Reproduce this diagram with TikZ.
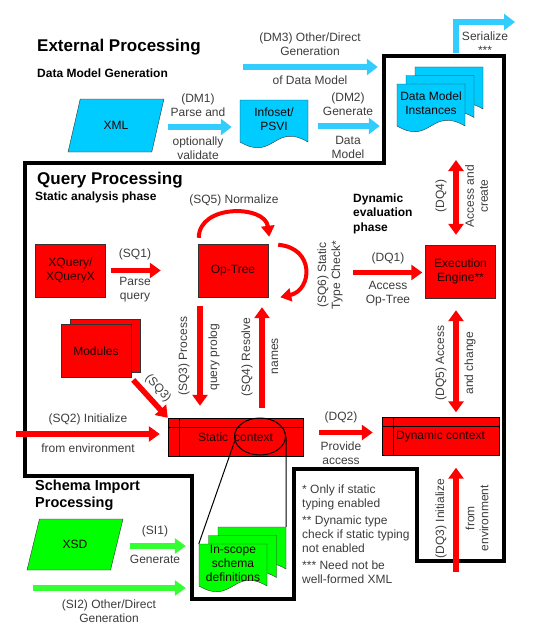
\documentclass[tikz,border=0pt]{standalone}
\usepackage{fontspec}
\setmainfont{Liberation Sans}
\usetikzlibrary{arrows.meta,shapes.geometric}

\definecolor{dmcyan}{HTML}{00CCFF}
\definecolor{dmarrow}{HTML}{33CCFF}
\definecolor{sqred}{HTML}{FF0000}
\definecolor{sigreen}{HTML}{00FF00}
\definecolor{siarrow}{HTML}{33FF33}
\definecolor{labelgray}{HTML}{3C3C3C}
\definecolor{edgegray}{HTML}{333333}
\definecolor{boxtext}{HTML}{200000}

\tikzset{
  lbl/.style={text=labelgray, font=\fontsize{12}{14}\selectfont, align=center, inner sep=0pt},
  head/.style={font=\fontsize{17}{20}\selectfont\bfseries, anchor=west, align=left, inner sep=0pt},
  subhead/.style={font=\fontsize{12}{14.5}\selectfont\bfseries, anchor=west, align=left, inner sep=0pt},
  boxfont/.style={text=boxtext, font=\fontsize{12}{14}\selectfont, align=center},
  redbox/.style={boxfont, draw=edgegray, fill=sqred, minimum width=70pt, minimum height=53pt, inner sep=1pt},
  ctxbox/.style={boxfont, draw=black, fill=sqred, minimum height=38pt, inner sep=0pt},
  slanted/.style={boxfont, trapezium, trapezium left angle=63, trapezium right angle=117,
    trapezium stretches=true, minimum width=96pt, minimum height=53pt, draw=edgegray, inner sep=0pt},
  sheet/.style={boxfont, minimum width=68pt, minimum height=38pt, inner sep=0pt},
  cyanflow/.style={draw=dmarrow, line width=6.5pt, -{Triangle[width=16pt,length=11pt]}},
  greenflow/.style={draw=siarrow, line width=6pt, -{Triangle[width=15pt,length=11pt]}},
  redflow/.style={draw=sqred, line width=5.5pt, -{Triangle[width=15pt,length=11pt]}},
  redboth/.style={redflow, {Triangle[width=15pt,length=11pt]}-{Triangle[width=15pt,length=11pt]}},
  redcurve/.style={draw=sqred, line width=4pt, -{Triangle[width=13pt,length=11pt]}}
}

% one page of a document shape: left x, top y, fill
\newcommand{\docsheet}[3]{%
  \filldraw[fill=#3, draw=edgegray] ({#1},{#2}) -- ({#1+68},{#2}) -- ({#1+68},{#2+42})
    .. controls ({#1+34},{#2+22}) and ({#1+34},{#2+62}) .. ({#1},{#2+42}) -- cycle;}

\begin{document}
\begin{tikzpicture}[x=1pt,y=-1pt]
\useasboundingbox (0,0) rectangle (540,626);

% query processing border
\draw[line width=3.5pt] (25,163) -- (384,163) -- (384,56) -- (504,56) -- (504,561) -- (417,561)
  -- (417,469) -- (294,469) -- (294,599) -- (192,599) -- (192,476) -- (25,476) -- cycle;

\node[head] (exthead) at (37,47) {External Processing};
\node[subhead] (dmhead) at (37,73) {Data Model Generation};
\node[head] (qphead) at (37,180) {Query Processing};
\node[subhead] (sahead) at (35,197) {Static analysis phase};
\node[subhead] (dehead) at (353,213.5) {Dynamic\\evaluation\\phase};
\node[head, font=\fontsize{14.5}{17}\selectfont\bfseries] (sihead) at (35,495.5) {Schema Import\\Processing};

% data model generation
\node[slanted, fill=dmcyan] (xml) at (116,125.5) {XML};
\docsheet{240}{100}{dmcyan}
\node[sheet] (info) at (274,119) {Infoset/\\PSVI};
\foreach \k in {2,1,0} {\docsheet{397+9*\k}{84-8.5*\k}{dmcyan}}
\node[sheet] (dmi) at (431,103) {Data Model\\Instances};

\draw[cyanflow, shorten <=10pt, shorten >=8pt] ([yshift=-1.5pt]xml.east) -- ([yshift=-1.5pt]xml.east -| info.west);
\node[lbl] (dm1a) at (198,105) {(DM1)\\Parse and};
\node[lbl] (dm1b) at (198,148) {optionally\\validate};
\draw[cyanflow, shorten <=10pt, shorten >=17pt] ([yshift=-7pt]info.east) -- ([yshift=-7pt]info.east -| dmi.west);
\node[lbl] (dm2a) at (348,104) {(DM2)\\Generate};
\node[lbl] (dm2b) at (348,147) {Data\\Model};
\coordinate (dm3s) at (243,67);
\draw[cyanflow, shorten >=19pt] (dm3s) -- (dm3s -| dmi.west);
\node[lbl] (dm3a) at (310,44.5) {(DM3) Other/Direct\\Generation};
\node[lbl] (dm3b) at (310,80) {of Data Model};
\coordinate (sers) at (456,53);
\coordinate (sere) at (515,22);
\draw[cyanflow] (sers) |- (sere);
\node[lbl] (serlbl) at (485,43) {Serialize\\***};

% static analysis
\node[redbox] (xq) at (70.5,270.5) {XQuery/\\XQueryX};
\node[redbox] (optree) at (233,270.5) {Op-Tree};
\node[redbox] (engine) at (460.5,271.5) {Execution\\Engine**};
\node[redbox] (modback) at (105.5,345.5) {};
\node[redbox] (modules) at (96,351) {Modules};
\node[ctxbox, minimum width=135pt] (sctx) at (235.5,437) {Static\hspace{6pt}context};
\node[ctxbox, minimum width=117pt] (dctx) at (440.5,436.5) {Dynamic context};
\foreach \c in {sctx,dctx} {
  \draw ([xshift=11pt]\c.north west) -- ([xshift=11pt]\c.south west);
  \draw ([yshift=-9pt]\c.north west) -- ([yshift=-9pt]\c.north east);
}
\node[draw=black, line width=1pt, ellipse, minimum width=51pt, minimum height=37pt, inner sep=0pt] (ring) at (260,436.5) {};

\draw[redflow, shorten <=5pt, shorten >=37pt] (xq.east) -- (optree.west);
\node[lbl] (sq1a) at (135,254) {(SQ1)};
\node[lbl] (sq1b) at (135,290) {Parse\\query};
\draw[redcurve] ([shift={(1,-6)}]optree.north west) .. controls +(0,-34) and +(-4,-32) .. ([shift={(1,-7)}]optree.north east);
\node[lbl] (sq5lbl) at (234,200) {(SQ5) Normalize};
\draw[redcurve] ([shift={(10,1)}]optree.north east) .. controls +(37,3) and +(32,-7) .. ([shift={(12,0)}]optree.south east);
\node[lbl, rotate=90] (sq6lbl) at (330,275) {(SQ6) Static\\Type Check*};
\draw[redflow, shorten <=9pt, shorten >=12pt] ([xshift=-33pt]optree.south) -- ([xshift=-33pt]optree.south |- sctx.north);
\node[lbl, rotate=90] (sq3a) at (184,356) {(SQ3) Process};
\node[lbl, rotate=90] (sq3b) at (214,357) {query prolog};
\draw[redflow, shorten <=10pt, shorten >=10pt] ([xshift=29pt]optree.south |- sctx.north) -- ([xshift=29pt]optree.south);
\node[lbl, rotate=90] (sq4a) at (247,357) {(SQ4) Resolve};
\node[lbl, rotate=90] (sq4b) at (275,356) {names};
\draw[redflow, shorten <=3pt] (modules.south east) -- (sctx.north west);
\node[lbl, rotate=-48] (sq3c) at (158,388) {(SQ3)};
\coordinate (sq2s) at (16,434);
\draw[redflow, shorten >=8pt] (sq2s) -- (sq2s -| sctx.west);
\node[lbl] (sq2a) at (88,419) {(SQ2) Initialize};
\node[lbl] (sq2b) at (88,448) {from environment};

% dynamic evaluation
\draw[redflow, shorten <=85pt, shorten >=3pt] ([yshift=-2pt]optree.east) -- ([yshift=-2pt]optree.east -| engine.west);
\node[lbl] (dq1a) at (388,258) {(DQ1)};
\node[lbl] (dq1b) at (388,294) {Access\\Op-Tree};
\coordinate (dq4top) at (456,160);
\draw[redboth, shorten <=10pt] ([xshift=-4.5pt]engine.north) -- (dq4top);
\node[lbl, rotate=90] (dq4a) at (441,196) {(DQ4)};
\node[lbl, rotate=90] (dq4b) at (476.5,196) {Access and\\create};
\draw[redboth, shorten <=12pt, shorten >=5pt] ([xshift=-4.5pt]engine.south) -- ([xshift=-4.5pt]engine.south |- dctx.north);
\node[lbl, rotate=90] (dq5a) at (441,363) {(DQ5) Access};
\node[lbl, rotate=90] (dq5b) at (470,363) {and change};
\draw[redflow, shorten <=16pt, shorten >=9pt] ([yshift=4.5pt]sctx.east) -- ([yshift=4.5pt]sctx.east -| dctx.west);
\node[lbl] (dq2a) at (341,417) {(DQ2)};
\node[lbl] (dq2b) at (341,453) {Provide\\access};
\coordinate (dq3s) at (456,572);
\draw[redflow, shorten >=12pt] (dq3s) -- (dq3s |- dctx.south);
\node[lbl, rotate=90] (dq3a) at (441,518.5) {(DQ3) Initialize};
\node[lbl, rotate=90] (dq3b) at (477,518) {from\\environment};

% schema import
\node[slanted, fill=sigreen, minimum height=51pt] (xsd) at (75,544.5) {XSD};
\foreach \k in {2,1,0} {\docsheet{199+9.5*\k}{544-8.5*\k}{sigreen}}
\node[sheet] (schema) at (233,563) {In-scope\\schema\\definitions};
\draw[greenflow, shorten <=13pt, shorten >=13pt] ([yshift=-1.5pt]xsd.east) -- ([yshift=-1.5pt]xsd.east -| schema.west);
\node[lbl] (si1a) at (155,531) {(SI1)};
\node[lbl] (si1b) at (155,559) {Generate};
\coordinate (si2s) at (33,588);
\draw[greenflow, shorten >=13pt] (si2s) -- (si2s -| schema.west);
\node[lbl] (si2a) at (109,611) {(SI2) Other/Direct\\Generation};

\draw[line width=1pt] (ring.190) -- (schema.north west);
\draw[line width=1pt] (ring.east) -- ([shift={(19,-17)}]schema.north east);

\node[lbl, align=left, anchor=west] (notes) at (302,534) {* Only if static\\typing enabled\\[3pt]** Dynamic type\\check if static typing\\not enabled\\[2.5pt]*** Need not be\\well-formed XML};
\end{tikzpicture}
\end{document}
